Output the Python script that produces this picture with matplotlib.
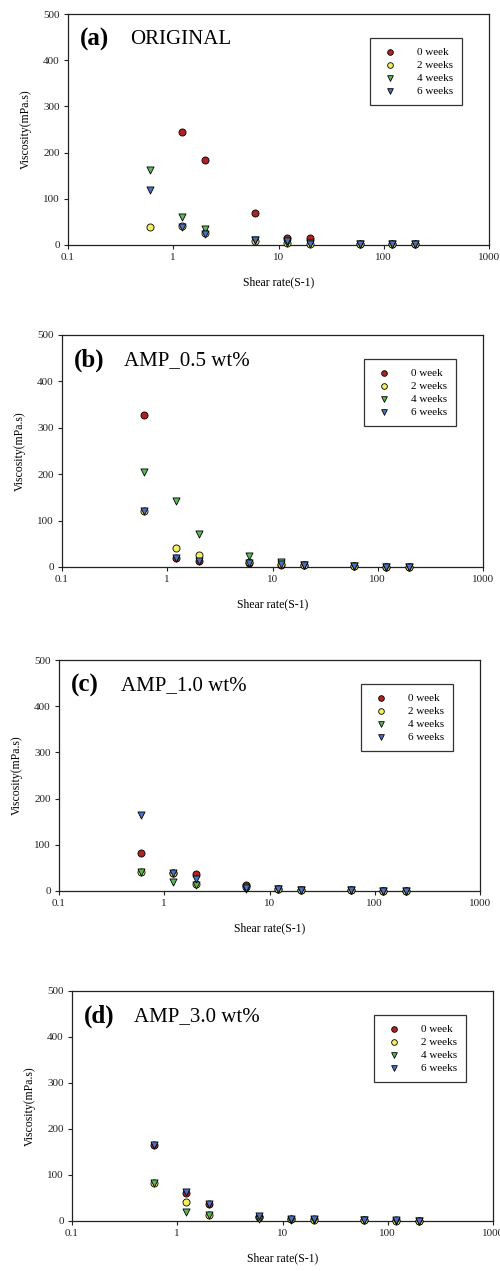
import numpy as np
import matplotlib.pyplot as plt

plt.rcParams['font.family'] = ['Liberation Serif', 'DejaVu Serif']

# shear rates (1/s)
shear = [0.6, 1.2, 2, 6, 12, 20, 60, 120, 200]

# viscosity (mPa.s), one list per storage week, per panel
orig_w0 = [None, 245, 184, 70, 15, 15, 3, 2, 3]
orig_w2 = [40, 42, 25, 8, 5, 3, 2, 2, 2]
orig_w4 = [162, 60, 35, 10, 5, 4, 2, 2, 2]
orig_w6 = [120, 40, 23, 10, 8, 3, 3, 2, 3]

amp05_w0 = [328, 20, 12, 8, 5, 5, 3, 1, 1]
amp05_w2 = [120, 42, 25, 10, 6, 5, 2, 1, 1]
amp05_w4 = [204, 143, 72, 24, 10, 5, 2, 1, 1]
amp05_w6 = [120, 20, 12, 8, 6, 5, 3, 1, 1]

amp10_w0 = [83, 40, 37, 12, 5, 3, 2, 1, 1]
amp10_w2 = [42, 40, 15, 8, 5, 3, 2, 1, 1]
amp10_w4 = [42, 20, 12, 5, 4, 3, 2, 1, 1]
amp10_w6 = [165, 40, 25, 7, 5, 3, 2, 1, 1]

amp30_w0 = [165, 60, 38, 8, 5, 5, 3, 2, 1]
amp30_w2 = [83, 42, 12, 8, 4, 3, 2, 1, 1]
amp30_w4 = [83, 20, 12, 5, 3, 3, 2, 1, 1]
amp30_w6 = [165, 62, 38, 10, 5, 5, 3, 2, 1]

labels = ["0 week", "2 weeks", "4 weeks", "6 weeks"]
tags = ["(a)", "(b)", "(c)", "(d)"]
names = ["ORIGINAL", "AMP_0.5 wt%", "AMP_1.0 wt%", "AMP_3.0 wt%"]
panels = [
    [orig_w0, orig_w2, orig_w4, orig_w6],
    [amp05_w0, amp05_w2, amp05_w4, amp05_w6],
    [amp10_w0, amp10_w2, amp10_w4, amp10_w6],
    [amp30_w0, amp30_w2, amp30_w4, amp30_w6],
]

colors = ["#b02222", "#f4f060", "#5cb85a", "#4a72c4"]
markers = ["o", "o", "v", "v"]

W, H = 500, 1271
# axes boxes in pixels: left, top, right, bottom
boxes = [(68, 14, 489, 245), (62, 335, 483, 567), (59, 660, 480, 891), (72, 991, 493, 1221)]

fig = plt.figure(figsize=(W / 100, H / 100), dpi=100)

for k in range(4):
    l, t, r, b = boxes[k]
    ax = fig.add_axes([l / W, 1 - b / H, (r - l) / W, (b - t) / H])
    for i in range(4):
        xs = [x for x, v in zip(shear, panels[k][i]) if v is not None]
        ys = [v for v in panels[k][i] if v is not None]
        ax.scatter(xs, ys, s=26, marker=markers[i], c=colors[i],
                   edgecolors="black", linewidths=0.6, label=labels[i],
                   clip_on=False, zorder=3)
    ax.set_xscale("log")
    ax.set_xlim(0.1, 1000)
    ax.set_ylim(0, 500)
    ax.set_yticks([0, 100, 200, 300, 400, 500])
    ax.set_xticks([0.1, 1, 10, 100, 1000])
    ax.set_xticklabels(["0.1", "1", "10", "100", "1000"])
    ax.xaxis.set_minor_locator(plt.NullLocator())
    ax.tick_params(labelsize=8, length=3, width=0.8, direction="out",
                   colors="#222222", pad=3)
    for sp in ax.spines.values():
        sp.set_linewidth(0.9)
        sp.set_color("#222222")
    ax.set_xlabel("Shear rate(S-1)", fontsize=8.5, labelpad=10)
    ax.set_ylabel("Viscosity(mPa.s)", fontsize=8.5, labelpad=8)
    ax.text(0.028, 0.89, tags[k], transform=ax.transAxes, fontsize=18,
            fontweight="bold", va="center", ha="left")
    ax.text(0.148, 0.89, names[k], transform=ax.transAxes, fontsize=15,
            va="center", ha="left")
    leg = ax.legend(loc="upper right", bbox_to_anchor=(0.935, 0.895),
                    fontsize=8, frameon=True, fancybox=False,
                    handletextpad=1.4, borderpad=0.8, labelspacing=0.3,
                    markerscale=0.8, borderaxespad=0)
    leg.get_frame().set_edgecolor("black")
    leg.get_frame().set_linewidth(0.9)

fig.savefig("out.png", dpi=100)
